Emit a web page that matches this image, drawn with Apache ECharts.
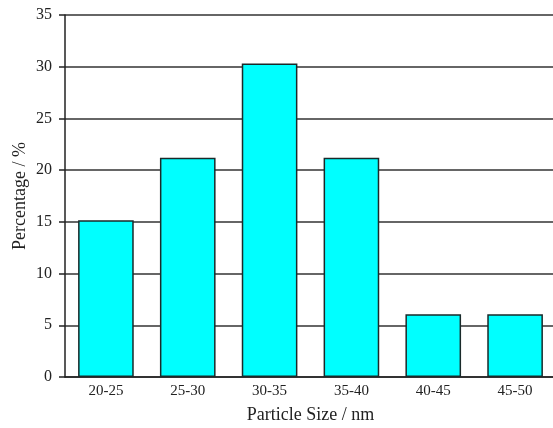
<!DOCTYPE html>
<html>
<head>
<meta charset="utf-8">
<script src="https://cdn.jsdelivr.net/npm/echarts@6/dist/echarts.min.js"></script>
<style>
  html, body { margin: 0; padding: 0; background: #fff; }
  #main { width: 553px; height: 428px; }
</style>
</head>
<body>
<div id="main"></div>
<script>
var categories = ['20-25', '25-30', '30-35', '35-40', '40-45', '45-50'];
var percentage = [15.15, 21.21, 30.3, 21.21, 6.06, 6.06];

var font = 'Liberation Serif';

var option = {
    animation: false,
    grid: {
        left: 65,
        right: -3,
        top: 15,
        bottom: 51,
        outerBoundsMode: 'none'
    },
    xAxis: {
        type: 'category',
        data: categories,
        name: 'Particle Size / nm',
        nameLocation: 'middle',
        nameGap: 29,
        nameTextStyle: { fontFamily: font, fontSize: 18, color: '#222' },
        axisLine: { lineStyle: { color: '#222', width: 1.5 } },
        axisTick: { show: false },
        axisLabel: { fontFamily: font, fontSize: 15, color: '#222', margin: 7 }
    },
    yAxis: {
        type: 'value',
        min: 0,
        max: 35,
        interval: 5,
        name: 'Percentage / %',
        nameLocation: 'middle',
        nameGap: 36,
        nameMoveOverlap: false,
        nameTextStyle: { fontFamily: font, fontSize: 18, color: '#222' },
        axisLine: { show: true, lineStyle: { color: '#222', width: 1.5 } },
        axisTick: { show: true, length: 6, lineStyle: { color: '#222', width: 1.5 } },
        axisLabel: { fontFamily: font, fontSize: 16, color: '#222', margin: 13 },
        splitLine: { lineStyle: { color: '#333', width: 1.5 } }
    },
    series: [
        {
            type: 'bar',
            data: percentage,
            barWidth: '68%',
            itemStyle: {
                color: '#00ffff',
                borderColor: '#1a2a2a',
                borderWidth: 1.5
            }
        }
    ]
};

var myChart = echarts.init(document.getElementById('main'));
myChart.setOption(option);
</script>
</body>
</html>
